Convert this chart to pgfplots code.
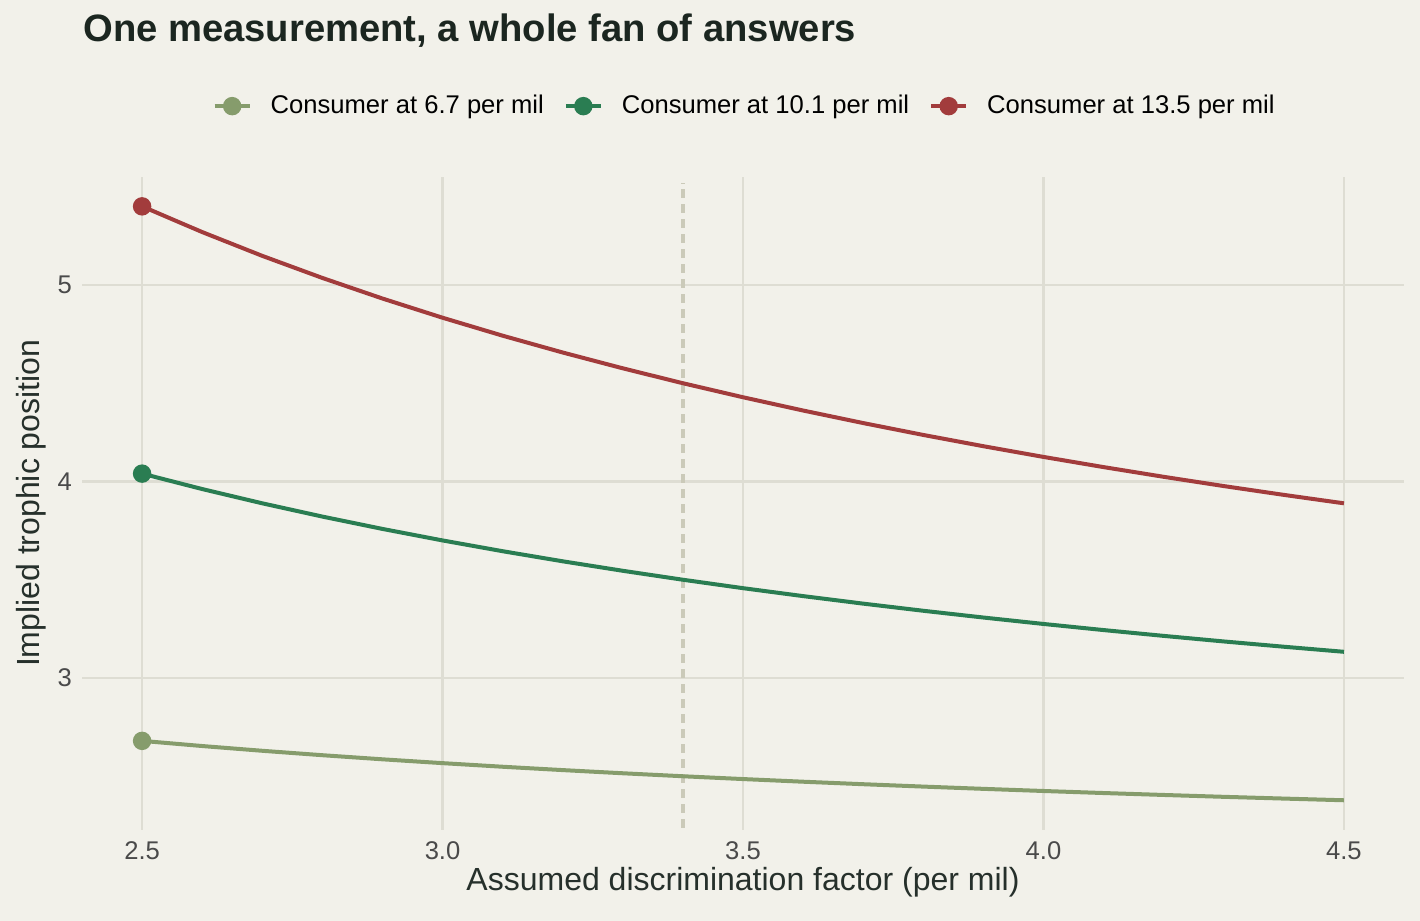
\documentclass[border=0pt]{standalone}
\usepackage{fontspec}
\setmainfont{Liberation Sans}
\usepackage{pgfplots}
\pgfplotsset{compat=1.18}
\definecolor{bg}{HTML}{F2F1EA}
\definecolor{gridc}{HTML}{DEDDD3}
\definecolor{dashc}{HTML}{CBCAB9}
\definecolor{lgreen}{HTML}{869C6C}
\definecolor{mgreen}{HTML}{2A7D52}
\definecolor{redc}{HTML}{A23C3C}
\definecolor{titlec}{HTML}{1B2620}
\definecolor{labc}{HTML}{26302B}
\definecolor{tickc}{HTML}{4A4A4A}
\begin{document}
\begin{tikzpicture}
\fill[bg] (0,0) rectangle (710bp,460.5bp);
\path[use as bounding box] (0,0) rectangle (710bp,460.5bp);
\node[anchor=base west, font=\fontsize{19.1bp}{22bp}\selectfont\bfseries, text=titlec, inner sep=0pt] at (41.5bp,439.5bp) {One measurement, a whole fan of answers};
\begin{axis}[
  at={(41bp,45.55bp)}, anchor=south west,
  scale only axis, width=661bp, height=326.6bp,
  xmin=2.4, xmax=4.6, ymin=2.227, ymax=5.551,
  axis line style={draw=none},
  major tick style={draw=none},
  grid=major,
  grid style={gridc, line width=1.2bp},
  xtick={2.5,3,3.5,4,4.5},
  xticklabels={2.5,3.0,3.5,4.0,4.5},
  ytick={3,4,5},
  /pgf/number format/assume math mode=true,
  tick label style={font=\fontsize{12.8bp}{15bp}\selectfont, text=tickc},
  xticklabel style={yshift=-2.5bp},
  yticklabel style={xshift=-1.5bp},
  xlabel={Assumed discrimination factor (per mil)},
  ylabel={Implied trophic position},
  label style={font=\fontsize{16bp}{19bp}\selectfont, text=labc},
  xlabel style={yshift=3bp},
  ylabel style={yshift=-1bp},
  legend style={at={(0.502,1.108)}, anchor=center, draw=none, fill=none,
    font=\fontsize{12.8bp}{15bp}\selectfont, text=black,
    legend columns=3,
    /tikz/every odd column/.append style={column sep=7.5bp},
    /tikz/every even column/.append style={column sep=8bp}},
  legend cell align=left,
  legend image code/.code={\draw[#1, mark=none] (0bp,0bp) -- (17.5bp,0bp);
    \path[#1, mark indices={1}] plot coordinates {(8.75bp,0bp)};},
  clip=false,
]
\addplot[dashc, line width=2bp, dash pattern=on 4.5bp off 3bp, forget plot] coordinates {(3.4,2.237) (3.4,5.52)};
\addplot[lgreen, line width=2bp, mark=*, mark size=3.6bp, mark indices={1}, mark options={solid}] coordinates {
(2.5,2.680) (2.6,2.6538) (2.7,2.6296) (2.8,2.6071) (2.9,2.5862) (3.0,2.5667) (3.1,2.5484) (3.2,2.5313) (3.3,2.5152) (3.4,2.5) (3.5,2.4857) (3.6,2.4722) (3.7,2.4595) (3.8,2.4474) (3.9,2.4359) (4.0,2.425) (4.1,2.4146) (4.2,2.4048) (4.3,2.3953) (4.4,2.3864) (4.5,2.3778)};
\addlegendentry{Consumer at 6.7 per mil}
\addplot[mgreen, line width=2bp, mark=*, mark size=3.6bp, mark indices={1}] coordinates {
(2.5,4.04) (2.6,3.9615) (2.7,3.8889) (2.8,3.8214) (2.9,3.7586) (3.0,3.7) (3.1,3.6452) (3.2,3.5938) (3.3,3.5455) (3.4,3.5) (3.5,3.4571) (3.6,3.4167) (3.7,3.3784) (3.8,3.3421) (3.9,3.3077) (4.0,3.275) (4.1,3.2439) (4.2,3.2143) (4.3,3.1860) (4.4,3.1591) (4.5,3.1333)};
\addlegendentry{Consumer at 10.1 per mil}
\addplot[redc, line width=2bp, mark=*, mark size=3.6bp, mark indices={1}] coordinates {
(2.5,5.4) (2.6,5.2692) (2.7,5.1481) (2.8,5.0357) (2.9,4.9310) (3.0,4.8333) (3.1,4.7419) (3.2,4.6563) (3.3,4.5758) (3.4,4.5) (3.5,4.4286) (3.6,4.3611) (3.7,4.2973) (3.8,4.2368) (3.9,4.1795) (4.0,4.125) (4.1,4.0732) (4.2,4.0238) (4.3,3.9767) (4.4,3.9318) (4.5,3.8889)};
\addlegendentry{Consumer at 13.5 per mil}
\end{axis}
\end{tikzpicture}
\end{document}
